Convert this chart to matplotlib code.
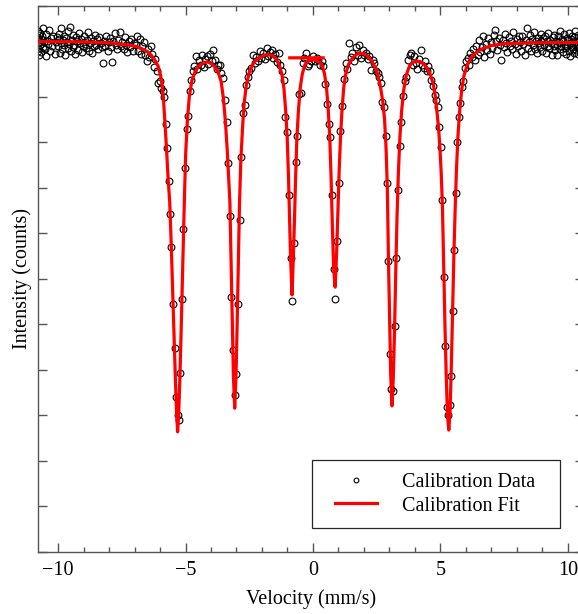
import numpy as np
import matplotlib
matplotlib.use('Agg')
import matplotlib.pyplot as plt
from matplotlib.ticker import MultipleLocator
from matplotlib.legend_handler import HandlerLine2D

plt.rcParams['font.family'] = ['Liberation Serif', 'DejaVu Serif']

# calibration spectrum (velocity in mm/s, intensity in tick units)
vel = [
    -10.80, -10.79, -10.79, -10.78, -10.77, -10.76, -10.75, -10.73, -10.71, -10.70,
    -10.68, -10.66, -10.63, -10.61, -10.58, -10.55, -10.52, -10.49, -10.46, -10.42,
    -10.39, -10.35, -10.31, -10.27, -10.22, -10.18, -10.13, -10.08, -10.04, -10.01,
    -9.98, -9.96, -9.93, -9.90, -9.87, -9.84, -9.81, -9.78, -9.75, -9.72,
    -9.69, -9.66, -9.63, -9.60, -9.57, -9.54, -9.50, -9.47, -9.43, -9.40,
    -9.36, -9.33, -9.29, -9.26, -9.22, -9.19, -9.15, -9.11, -9.07, -9.03,
    -8.99, -8.95, -8.91, -8.87, -8.83, -8.79, -8.75, -8.71, -8.67, -8.63,
    -8.59, -8.55, -8.51, -8.47, -8.42, -8.38, -8.33, -8.29, -8.24, -8.20,
    -8.15, -8.11, -8.06, -8.02, -7.97, -7.92, -7.87, -7.83, -7.78, -7.73,
    -7.68, -7.63, -7.58, -7.53, -7.48, -7.43, -7.38, -7.33, -7.28, -7.22,
    -7.17, -7.12, -7.07, -7.02, -6.96, -6.91, -6.86, -6.80, -6.75, -6.70,
    -6.64, -6.59, -6.53, -6.48, -6.42, -6.37, -6.31, -6.25, -6.19, -6.13,
    -6.07, -6.01, -5.95, -5.89, -5.84, -5.78, -5.72, -5.66, -5.60, -5.55,
    -5.49, -5.43, -5.37, -5.31, -5.25, -5.20, -5.14, -5.08, -5.02, -4.96,
    -4.90, -4.84, -4.78, -4.72, -4.66, -4.60, -4.54, -4.48, -4.41, -4.35,
    -4.29, -4.23, -4.16, -4.10, -4.04, -3.97, -3.91, -3.85, -3.78, -3.72,
    -3.65, -3.59, -3.52, -3.46, -3.39, -3.33, -3.26, -3.20, -3.13, -3.07,
    -3.00, -2.94, -2.88, -2.81, -2.75, -2.68, -2.62, -2.55, -2.49, -2.42,
    -2.35, -2.29, -2.22, -2.15, -2.09, -2.02, -1.95, -1.89, -1.82, -1.75,
    -1.69, -1.62, -1.55, -1.49, -1.42, -1.35, -1.29, -1.22, -1.15, -1.09,
    -1.02, -0.95, -0.88, -0.82, -0.75, -0.68, -0.61, -0.55, -0.48, -0.41,
    -0.34, -0.28, -0.21, -0.14, -0.07, 0.00, 0.07, 0.14, 0.20, 0.27,
    0.34, 0.41, 0.48, 0.54, 0.61, 0.68, 0.75, 0.81, 0.88, 0.95,
    1.02, 1.08, 1.15, 1.22, 1.28, 1.35, 1.42, 1.48, 1.55, 1.62,
    1.68, 1.75, 1.82, 1.88, 1.95, 2.02, 2.08, 2.15, 2.21, 2.28,
    2.35, 2.41, 2.48, 2.54, 2.60, 2.66, 2.72, 2.79, 2.85, 2.91,
    2.96, 3.02, 3.08, 3.14, 3.21, 3.27, 3.34, 3.40, 3.47, 3.53,
    3.60, 3.66, 3.73, 3.79, 3.86, 3.92, 3.98, 4.04, 4.10, 4.16,
    4.22, 4.28, 4.35, 4.41, 4.47, 4.53, 4.59, 4.65, 4.71, 4.77,
    4.83, 4.89, 4.95, 5.01, 5.07, 5.13, 5.19, 5.25, 5.31, 5.37,
    5.42, 5.48, 5.54, 5.60, 5.66, 5.72, 5.78, 5.84, 5.89, 5.95,
    6.01, 6.07, 6.12, 6.18, 6.24, 6.29, 6.35, 6.40, 6.46, 6.51,
    6.57, 6.62, 6.67, 6.73, 6.78, 6.83, 6.88, 6.94, 6.99, 7.04,
    7.09, 7.14, 7.19, 7.24, 7.29, 7.34, 7.39, 7.44, 7.49, 7.54,
    7.58, 7.63, 7.68, 7.72, 7.77, 7.82, 7.86, 7.91, 7.95, 8.00,
    8.04, 8.09, 8.13, 8.17, 8.22, 8.26, 8.30, 8.34, 8.38, 8.43,
    8.47, 8.51, 8.55, 8.59, 8.63, 8.66, 8.70, 8.74, 8.78, 8.82,
    8.85, 8.89, 8.93, 8.96, 9.00, 9.04, 9.07, 9.11, 9.14, 9.18,
    9.21, 9.24, 9.28, 9.31, 9.34, 9.38, 9.41, 9.44, 9.47, 9.50,
    9.53, 9.56, 9.59, 9.62, 9.65, 9.68, 9.71, 9.74, 9.77, 9.80,
    9.82, 9.85, 9.88, 9.90, 9.93, 9.96, 9.98, 10.01, 10.03, 10.06,
    10.08, 10.10, 10.13, 10.15, 10.17, 10.19, 10.22, 10.24, 10.26, 10.28,
    10.30, 10.32, 10.34, 10.36, 10.38, 10.40, 10.42, 10.44, 10.46,
]
counts = [
    11.30, 11.08, 11.45, 11.19, 11.02, 11.36, 11.25, 10.93, 11.14, 11.41,
    11.27, 10.98, 11.33, 11.10, 11.52, 11.21, 11.05, 11.38, 10.89, 11.24,
    11.16, 11.47, 11.00, 11.29, 11.12, 11.35, 10.95, 11.20, 11.31, 11.11,
    11.39, 11.27, 10.97, 11.18, 11.52, 11.06, 11.25, 11.33, 11.14, 10.92,
    11.29, 11.21, 11.08, 11.44, 11.17, 11.54, 11.02, 11.26, 11.09, 11.37,
    11.15, 10.95, 11.31, 11.22, 11.04, 11.40, 11.18, 11.28, 10.99, 11.12,
    11.34, 11.16, 11.07, 11.25, 11.42, 11.01, 11.19, 11.30, 10.96, 11.23,
    11.11, 11.36, 11.14, 11.27, 11.05, 11.32, 11.18, 11.09, 10.75, 11.24,
    11.13, 11.35, 11.02, 11.21, 11.29, 11.10, 10.76, 11.22, 11.41, 11.15,
    11.06, 11.26, 11.43, 11.12, 11.20, 11.05, 11.31, 11.14, 10.98, 11.23,
    11.09, 11.27, 11.01, 11.18, 11.15, 11.33, 11.02, 11.28, 10.95, 11.12,
    11.20, 10.93, 10.80, 11.05, 10.88, 11.12, 10.95, 10.66, 10.83, 10.56,
    10.30, 10.34, 10.19, 10.14, 10.01, 9.41, 8.87, 8.15, 7.42, 6.71,
    5.46, 4.48, 3.41, 3.01, 2.91, 3.93, 5.57, 7.09, 8.43, 9.29,
    9.58, 10.14, 10.37, 10.56, 10.67, 10.89, 10.62, 10.81, 10.70, 10.93,
    10.66, 10.84, 10.89, 10.72, 10.95, 10.78, 11.03, 10.81, 10.62, 10.70,
    10.70, 10.53, 10.41, 9.93, 9.44, 8.55, 7.39, 5.61, 4.43, 3.44,
    3.92, 5.44, 7.30, 8.67, 9.64, 9.82, 10.26, 10.43, 10.56, 10.63,
    10.92, 10.74, 10.88, 10.79, 11.02, 10.85, 10.96, 10.83, 11.07, 10.90,
    10.98, 11.03, 10.86, 10.94, 10.77, 10.96, 10.70, 10.56, 10.37, 9.57,
    9.24, 7.85, 6.46, 5.52, 6.78, 8.56, 9.15, 10.06, 10.08, 10.74,
    10.85, 10.96, 10.67, 10.72, 10.80, 10.91, 10.78, 10.85, 10.81, 10.70,
    10.78, 10.67, 10.28, 9.84, 9.40, 9.11, 7.85, 6.22, 5.55, 6.84,
    8.10, 9.25, 9.80, 10.40, 10.74, 10.62, 11.18, 10.88, 10.97, 10.80,
    11.10, 10.93, 11.14, 10.86, 11.03, 10.92, 10.96, 10.83, 10.90, 10.59,
    10.82, 10.74, 10.56, 10.52, 10.43, 10.30, 9.90, 9.79, 9.14, 8.10,
    6.40, 4.35, 3.58, 3.53, 4.96, 6.47, 7.96, 8.93, 9.46, 10.02,
    10.34, 10.43, 10.81, 10.92, 10.96, 10.70, 10.89, 10.75, 10.62, 10.84,
    11.03, 10.71, 10.63, 10.80, 10.58, 10.67, 10.56, 10.38, 10.23, 10.05,
    9.93, 9.77, 9.35, 8.91, 7.74, 6.04, 4.53, 3.18, 3.01, 3.22,
    3.86, 5.30, 6.64, 7.90, 9.02, 9.55, 9.87, 10.21, 10.34, 10.63,
    10.78, 10.85, 10.70, 10.96, 10.88, 11.05, 10.82, 11.12, 10.93, 11.26,
    10.98, 11.10, 11.33, 10.87, 11.17, 11.04, 11.29, 10.95, 11.21, 11.08,
    11.36, 11.47, 11.22, 11.03, 11.30, 11.15, 10.81, 11.26, 11.09, 11.38,
    11.19, 10.99, 11.31, 11.13, 11.24, 11.05, 11.42, 11.17, 10.94, 11.28,
    11.11, 11.35, 11.20, 11.02, 11.33, 11.16, 10.92, 11.25, 11.52, 11.08,
    11.21, 11.37, 11.00, 11.27, 11.14, 11.43, 11.06, 11.23, 10.97, 11.30,
    11.18, 11.09, 11.39, 11.24, 11.01, 11.29, 11.15, 11.34, 10.96, 11.22,
    11.12, 11.40, 11.07, 11.26, 11.18, 10.93, 11.31, 11.11, 11.36, 11.03,
    11.24, 11.15, 10.92, 11.33, 11.20, 11.05, 11.45, 11.13, 11.27, 10.99,
    11.22, 11.38, 11.08, 11.17, 10.95, 11.30, 11.12, 11.25, 11.02, 11.41,
    11.19, 10.90, 11.28, 11.10, 11.34, 11.06, 11.23, 10.97, 11.31, 11.14,
    11.44, 11.03, 11.21, 11.12, 11.36, 10.94, 11.26, 11.09, 11.18,
]

# fitted curve as drawn (the short flat piece near the centre is in the original too)
fit_vel = [
    -10.80, -9.00, -8.00, -7.50, -7.00, -6.75, -6.50, -6.35, -6.20, -6.07,
    -5.98, -5.92, -5.87, -5.81, -5.75, -5.68, -5.62, -5.56, -5.50, -5.45,
    -5.40, -5.35, -5.31, -5.27, -5.22, -5.17, -5.12, -5.08, -5.04, -4.99,
    -4.93, -4.85, -4.75, -4.62, -4.48, -4.30, -4.15, -4.00, -3.85, -3.72,
    -3.60, -3.51, -3.43, -3.36, -3.31, -3.26, -3.21, -3.16, -3.12, -3.07,
    -3.02, -2.98, -2.93, -2.88, -2.83, -2.76, -2.70, -2.61, -2.48, -2.30,
    -2.10, -1.85, -1.62, -1.45, -1.32, -1.22, -1.14, -1.07, -1.01, -0.96,
    -0.92, -0.88, -0.82, -0.76, -0.72, -0.68, -0.63, -0.57, -0.50, -0.42,
    -0.32, -0.18, 0.00, 0.18, 0.34, 0.45, 0.53, 0.60, 0.66, 0.71,
    0.76, 0.81, 0.87, 0.93, 0.98, 1.03, 1.08, 1.14, 1.21, 1.29,
    1.40, 1.55, 1.75, 1.95, 2.15, 2.32, 2.50, 2.63, 2.74, 2.81,
    2.87, 2.92, 2.96, 3.01, 3.05, 3.10, 3.15, 3.20, 3.25, 3.30,
    3.35, 3.41, 3.48, 3.56, 3.66, 3.80, 4.00, 4.20, 4.35, 4.50,
    4.62, 4.72, 4.80, 4.87, 4.93, 4.98, 5.03, 5.08, 5.13, 5.18,
    5.23, 5.28, 5.33, 5.38, 5.43, 5.48, 5.53, 5.58, 5.63, 5.69,
    5.76, 5.84, 5.93, 6.04, 6.17, 6.35, 6.60, 7.00, 7.50, 8.50,
    10.70, np.nan, -0.91, 0.40,
]
fit_counts = [
    11.22, 11.21, 11.19, 11.16, 11.12, 11.07, 11.00, 10.92, 10.81, 10.67,
    10.48, 10.26, 10.00, 9.45, 8.91, 8.18, 7.70, 6.75, 5.65, 4.70,
    3.85, 3.05, 2.64, 3.00, 3.85, 4.90, 6.05, 7.00, 7.85, 8.80,
    9.45, 10.02, 10.36, 10.56, 10.68, 10.75, 10.77, 10.74, 10.66, 10.55,
    10.33, 9.95, 9.42, 8.80, 8.25, 7.70, 6.30, 4.85, 3.85, 3.16,
    3.85, 4.85, 6.30, 7.70, 8.60, 9.35, 9.86, 10.28, 10.58, 10.77,
    10.87, 10.93, 10.92, 10.84, 10.70, 10.50, 10.20, 9.70, 9.10, 8.25,
    7.40, 6.50, 5.65, 6.65, 7.40, 8.25, 9.10, 9.70, 10.20, 10.50,
    10.70, 10.80, 10.82, 10.79, 10.72, 10.52, 10.22, 9.72, 9.10, 8.25,
    7.20, 6.25, 5.82, 6.60, 7.50, 8.40, 9.10, 9.72, 10.22, 10.52,
    10.72, 10.86, 10.95, 10.96, 10.90, 10.78, 10.58, 10.28, 9.90, 9.50,
    8.85, 7.95, 6.50, 5.00, 3.90, 3.21, 3.80, 4.85, 6.20, 7.40,
    8.30, 9.10, 9.70, 10.15, 10.48, 10.70, 10.79, 10.78, 10.72, 10.62,
    10.47, 10.28, 10.02, 9.65, 9.30, 8.90, 8.35, 7.60, 6.25, 4.95,
    3.85, 3.00, 2.68, 3.10, 4.10, 5.30, 6.55, 7.55, 8.40, 9.15,
    9.72, 10.18, 10.48, 10.68, 10.84, 10.95, 11.05, 11.13, 11.17, 11.19,
    11.20, np.nan, 10.86, 10.86,
]

fig = plt.figure(figsize=(5.78, 6.14), dpi=100)
ax = fig.add_axes([0.0652, 0.101, 0.945, 0.8893])

data_line, = ax.plot(vel, counts, 'o', mfc='none', mec='black', ms=4.9, mew=0.8,
                     label='Calibration Data', zorder=2)
fit_line, = ax.plot(fit_vel, fit_counts, '-', color='red', lw=2.3,
                    label='Calibration Fit', zorder=3)

ax.set_xlim(-10.80, 10.63)
ax.set_ylim(0, 12)
ax.xaxis.set_major_locator(MultipleLocator(5))
ax.xaxis.set_minor_locator(MultipleLocator(1))
ax.yaxis.set_major_locator(MultipleLocator(1))
ax.set_yticklabels([])
ax.tick_params(which='both', direction='in', top=True, right=True,
               color='#555555', labelcolor='black', labelsize=14.5, pad=6.5)
ax.tick_params(which='major', length=6.5, width=1.0)
ax.tick_params(which='minor', length=3.4, width=1.0)
ax.set_ylim(0, 12)
for sp in ax.spines.values():
    sp.set_color('#555555')
    sp.set_linewidth(1.0)

ax.set_xlabel('Velocity (mm/s)', fontsize=14.5, labelpad=7)
ax.set_ylabel('Intensity (counts)', fontsize=14.5)
ax.yaxis.set_label_coords(-0.0104, 0.5)

hmap = {data_line: HandlerLine2D(numpoints=1, xpad=0.53),
        fit_line: HandlerLine2D(xpad=0.53)}
leg = ax.legend(loc='lower left', bbox_to_anchor=(0.5024, 0.0439, 0.4535, 0.13),
                mode='expand', borderaxespad=0, borderpad=0.62,
                handlelength=2.585, handletextpad=1.24, labelspacing=0.22,
                fontsize=14.5, fancybox=False, edgecolor='0.15', framealpha=1,
                markerscale=0.7, handler_map=hmap)
leg.get_frame().set_linewidth(0.9)

fig.savefig('out.png', dpi=100)
